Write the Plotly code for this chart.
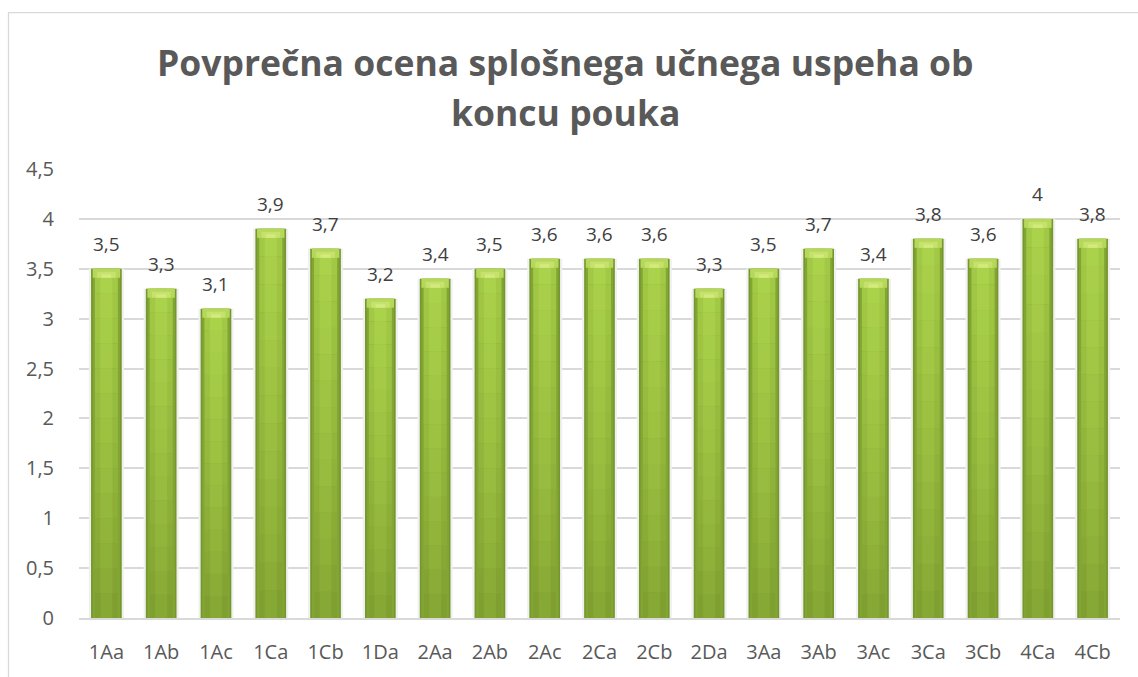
import plotly.graph_objects as go

categories = ["1Aa", "1Ab", "1Ac", "1Ca", "1Cb", "1Da", "2Aa", "2Ab", "2Ac", "2Ca",
              "2Cb", "2Da", "3Aa", "3Ab", "3Ac", "3Ca", "3Cb", "4Ca", "4Cb"]
values = [3.5, 3.3, 3.1, 3.9, 3.7, 3.2, 3.4, 3.5, 3.6, 3.6,
          3.6, 3.3, 3.5, 3.7, 3.4, 3.8, 3.6, 4.0, 3.8]
y_ticks = [0, 0.5, 1, 1.5, 2, 2.5, 3, 3.5, 4, 4.5]
title_lines = ["Povprečna ocena splošnega učnega uspeha ob", "koncu pouka"]

labels = [f"{v:g}".replace(".", ",") for v in values]
tick_text = [f"{t:g}".replace(".", ",") for t in y_ticks]

W, H = 1138, 677
L, R, T, B = 79, 18, 169, 56
pw = W - L - R
ph = H - T - B
FONT = "Open Sans, Calibri, sans-serif"

fig = go.Figure()

# soft shadow and darker edges
for w, c in [(0.64, "#F0F0F0"), (0.56, "#76962E"), (0.5, "#82A634")]:
    fig.add_trace(go.Bar(x=categories, y=values, width=w, marker=dict(color=c, line=dict(width=0)),
                         hoverinfo="skip", showlegend=False))


def mix(c1, c2, t):
    a = [int(c1[i:i + 2], 16) for i in (1, 3, 5)]
    b = [int(c2[i:i + 2], 16) for i in (1, 3, 5)]
    return "#" + "".join(f"{round(x + (y - x) * t):02X}" for x, y in zip(a, b))


# vertical gradient inside each bar
N = 14
for k in range(N):
    t = k / (N - 1)
    col = mix("#7F9F30", "#A2C945", t ** 0.8)
    fig.add_trace(go.Bar(x=categories, y=[v / N for v in values], base=[v * k / N for v in values],
                         width=0.42, marker=dict(color=col, line=dict(width=0)),
                         hoverinfo="skip", showlegend=False))
    col2 = mix("#86A834", "#ABD24B", t ** 0.8)
    fig.add_trace(go.Bar(x=categories, y=[v / N for v in values], base=[v * k / N for v in values],
                         width=0.22, marker=dict(color=col2, line=dict(width=0)),
                         hoverinfo="skip", showlegend=False))

# light cap at the top of each bar
for h, w, c in [(0.09, 0.5, "#B6D85A"), (0.06, 0.34, "#C6E26C"), (0.035, 0.18, "#D2EA7E")]:
    fig.add_trace(go.Bar(x=categories, y=[h] * len(values), base=[v - 0.09 for v in values], width=w,
                         marker=dict(color=c, line=dict(width=0)), hoverinfo="skip", showlegend=False))

for c, v, t in zip(categories, values, labels):
    fig.add_annotation(x=c, y=v, text=t, showarrow=False, yanchor="bottom", yshift=10,
                       font=dict(family=FONT, size=19, color="#404040"))

# title as two centred lines
for i, (line, yc) in enumerate(zip(title_lines, [61, 112])):
    fig.add_annotation(xref="paper", yref="paper", x=(W / 2 - 4 - L) / pw, y=1 + (T - yc) / ph,
                       text=f"<b>{line}</b>", showarrow=False, xanchor="center", yanchor="middle",
                       font=dict(family=FONT, size=35.5, color="#595959"))

# chart frame (top and left edges visible)
fig.add_shape(type="rect", xref="paper", yref="paper",
              x0=(8.5 - L) / pw, x1=(W + 20 - L) / pw,
              y0=-(B + 20) / ph, y1=1 + (T - 11.5) / ph,
              line=dict(color="#D9D9D9", width=1.3), layer="below")

fig.update_layout(
    width=W, height=H,
    margin=dict(l=L, r=R, t=T, b=B, pad=0),
    barmode="overlay",
    plot_bgcolor="white", paper_bgcolor="white",
    font=dict(family=FONT, size=20, color="#595959"),
)
fig.update_xaxes(showgrid=False, showline=True, linecolor="#D9D9D9", linewidth=1.5, ticks="",
                 ticklabelstandoff=15, tickfont=dict(size=20, color="#595959"))
fig.update_yaxes(range=[0, 4.5], tickvals=y_ticks, ticktext=tick_text, showgrid=True, gridcolor="#D9D9D9",
                 gridwidth=1.5, zeroline=False, showline=False, ticks="", ticklabelstandoff=24,
                 tickfont=dict(size=20, color="#595959"))

fig.write_html("out.html", config={"displayModeBar": False},
               post_script="document.body.style.margin='0';")
